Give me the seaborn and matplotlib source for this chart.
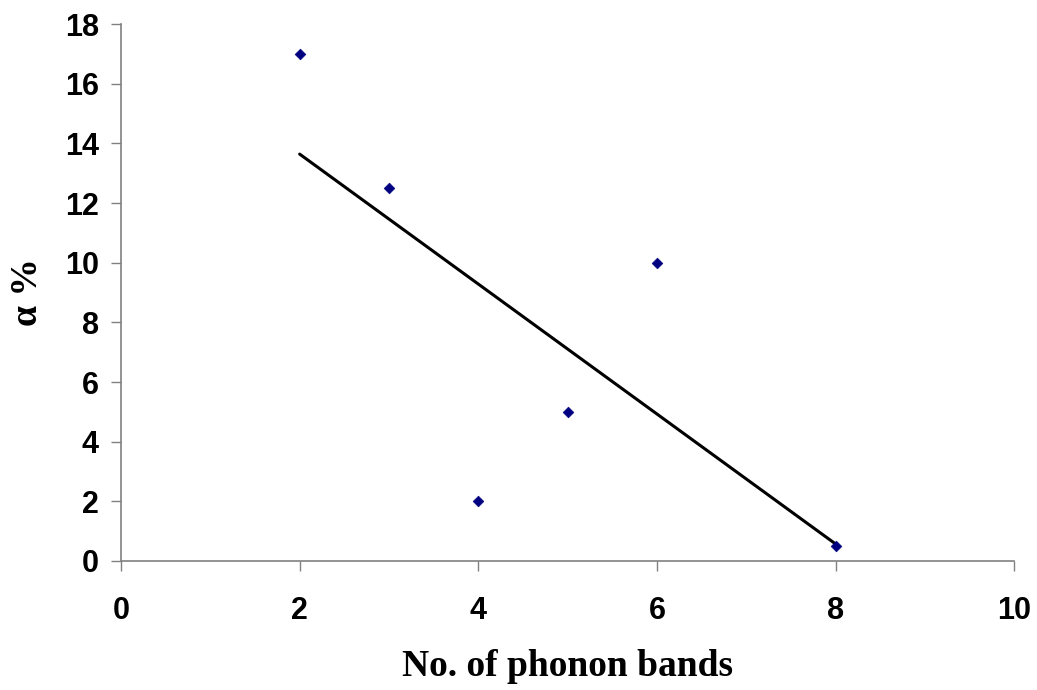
import matplotlib
matplotlib.use("Agg")
import matplotlib.pyplot as plt
import seaborn as sns
import pandas as pd

# dane z wykresu
bands = [2, 3, 4, 5, 6, 8]
alpha_pct = [17, 12.5, 2, 5, 10, 0.5]
x_ticks = [0, 2, 4, 6, 8, 10]
y_ticks = [0, 2, 4, 6, 8, 10, 12, 14, 16, 18]

df = pd.DataFrame({"bands": bands, "alpha": alpha_pct})

sns.set_theme(style="white")
plt.rcParams["font.family"] = ["Liberation Sans", "DejaVu Sans"]
plt.rcParams["text.color"] = "black"
plt.rcParams["axes.labelcolor"] = "black"
plt.rcParams["xtick.labelcolor"] = "black"
plt.rcParams["ytick.labelcolor"] = "black"

fig = plt.figure(figsize=(10.37, 6.9), dpi=100)
ax = fig.add_axes([0.1167, 0.187, 0.8613, 0.778])

# linia trendu (regresja liniowa)
sns.regplot(data=df, x="bands", y="alpha", ax=ax, scatter=False, ci=None,
            truncate=True, line_kws={"color": "black", "lw": 2.2})
sns.scatterplot(data=df, x="bands", y="alpha", ax=ax, marker="D", s=30,
                color="#000080", edgecolor="#000080", zorder=3)

ax.set_xlim(0, 10)
ax.set_ylim(0, 18)
ax.set_xticks(x_ticks)
ax.set_yticks(y_ticks)
for lbl in ax.get_xticklabels() + ax.get_yticklabels():
    lbl.set_fontweight("bold")
    lbl.set_fontsize(22)
    lbl.set_color("black")

ax.tick_params(axis="both", direction="out", length=7, width=1, color="#808080",
               left=True, bottom=True)
ax.tick_params(axis="y", pad=9)
ax.tick_params(axis="x", pad=18)

for side in ["top", "right"]:
    ax.spines[side].set_visible(False)
for side in ["left", "bottom"]:
    ax.spines[side].set_color("#808080")
    ax.spines[side].set_linewidth(1.2)

ax.set_xlabel("No. of phonon bands", fontsize=27, fontweight="bold", color="black",
              family=["Liberation Serif", "DejaVu Serif"], labelpad=17)
ax.set_ylabel("α %", fontsize=27, fontweight="bold", color="black",
              family=["Liberation Serif", "DejaVu Serif"], labelpad=14)

fig.savefig("out.png", dpi=100)
